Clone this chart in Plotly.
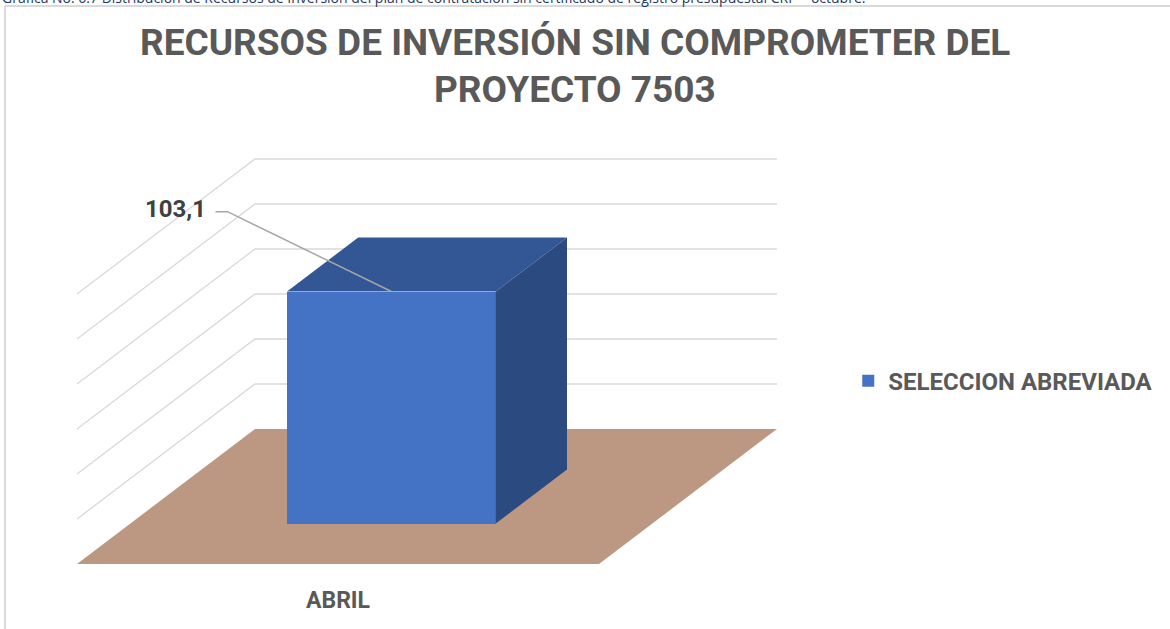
import plotly.graph_objects as go

# data
categories = ["ABRIL"]
series_name = "SELECCION ABREVIADA"
values = [103.1]
value_labels = ["103,1"]
grid_ticks = [20, 40, 60, 80, 100, 120]

title_lines = ["RECURSOS DE INVERSIÓN SIN COMPROMETER DEL", "PROYECTO 7503"]
caption_text = ("Gráfica No. 6.7 Distribución de Recursos de Inversión del plan de contratación "
                "sin certificado de registro presupuestal CRP – octubre.")

# oblique 3d projection (depth z in 0..1 shifts right and up)
DEPTH_DX = 0.341
DEPTH_DY = 60.0
BAR_X0, BAR_X1 = 0.3, 0.7
BAR_Z0, BAR_Z1 = 0.3, 0.7

FRONT = "#4472C4"
TOP = "#335694"
SIDE = "#2A4A80"
FLOOR = "#BC9882"
GRID = "#D9D9D9"
TXT = "#595959"
FONT = "Roboto"

X_RANGE = [-0.1475, 2.0939]
Y_RANGE = [-28.89, 250.67]


def proj(x, v, z):
    return x + DEPTH_DX * z, v + DEPTH_DY * z


def poly(points):
    xs, ys = [], []
    for p in points:
        px, py = proj(*p)
        xs.append(px)
        ys.append(py)
    xs.append(xs[0])
    ys.append(ys[0])
    return xs, ys


fig = go.Figure()

# gridlines: left wall diagonals + back wall horizontals
for t in grid_ticks:
    xs, ys = [], []
    for p in [(0, t, 0), (0, t, 1), (1, t, 1)]:
        px, py = proj(*p)
        xs.append(px)
        ys.append(py)
    fig.add_trace(go.Scatter(x=xs, y=ys, mode="lines", line=dict(color=GRID, width=1.3),
                             hoverinfo="skip", showlegend=False))

# floor
fx, fy = poly([(0, 0, 0), (1, 0, 0), (1, 0, 1), (0, 0, 1)])
fig.add_trace(go.Scatter(x=fx, y=fy, fill="toself", mode="lines", fillcolor=FLOOR,
                         line=dict(width=0), hoverinfo="skip", showlegend=False))

for i, cat in enumerate(categories):
    v = values[i]
    cx = i + 0.5
    x0 = i + BAR_X0
    x1 = i + BAR_X1
    # front face as a real bar (on the overlay axes so it sits above the floor)
    bx, bbase = proj(cx, 0, BAR_Z0)
    fig.add_trace(go.Bar(x=[bx], y=[v], base=[bbase], width=[x1 - x0], name=series_name,
                         marker=dict(color=FRONT, line=dict(width=0)), showlegend=True,
                         xaxis="x2", yaxis="y2"))
    tx, ty = poly([(x0, v, BAR_Z0), (x1, v, BAR_Z0), (x1, v, BAR_Z1), (x0, v, BAR_Z1)])
    fig.add_trace(go.Scatter(x=tx, y=ty, fill="toself", mode="lines", fillcolor=TOP,
                             line=dict(width=0), hoverinfo="skip", showlegend=False,
                             xaxis="x2", yaxis="y2"))
    sx, sy = poly([(x1, v, BAR_Z0), (x1, v, BAR_Z1), (x1, 0, BAR_Z1), (x1, 0, BAR_Z0)])
    fig.add_trace(go.Scatter(x=sx, y=sy, fill="toself", mode="lines", fillcolor=SIDE,
                             line=dict(width=0), hoverinfo="skip", showlegend=False,
                             xaxis="x2", yaxis="y2"))

    # data label with leader line
    ex, ey = proj(cx, v, BAR_Z0)
    lx, ly = ex - 0.337, ey + 35.5
    fig.add_trace(go.Scatter(x=[lx, lx + 0.023, ex], y=[ly, ly, ey], mode="lines",
                             line=dict(color="#A6A6A6", width=1.5), hoverinfo="skip",
                             showlegend=False, xaxis="x2", yaxis="y2"))
    fig.add_annotation(x=lx - 0.014, y=ly + 1, text=value_labels[i], showarrow=False,
                       xanchor="right", yanchor="middle", xref="x2", yref="y2",
                       font=dict(family=FONT, size=24, color="#404040", weight="bold"))

    # category label
    fig.add_annotation(x=cx, y=-16, text=cat, showarrow=False, xanchor="center",
                       yanchor="middle", xref="x2", yref="y2",
                       font=dict(family=FONT, size=23, color=TXT, weight="bold"))

# title lines
for k, line in enumerate(title_lines):
    fig.add_annotation(xref="paper", yref="paper", x=0.4915, y=1 - (42 + 48 * k) / 629,
                       text=line, showarrow=False, xanchor="center", yanchor="middle",
                       font=dict(family=FONT, size=37, color=TXT, weight="bold"))

# frame border and cropped caption line
fig.add_shape(type="line", xref="paper", yref="paper", x0=0.004, x1=1.0,
              y0=1 - 6 / 629, y1=1 - 6 / 629, line=dict(color=GRID, width=2))
fig.add_shape(type="line", xref="paper", yref="paper", x0=0.0043, x1=0.0043,
              y0=0, y1=1 - 6 / 629, line=dict(color=GRID, width=2))
fig.add_annotation(xref="paper", yref="paper", x=0.0, y=1 + 3 / 629, text=caption_text,
                   showarrow=False, xanchor="left", yanchor="middle",
                   font=dict(family="Open Sans", size=14, color="#1F3864"))

fig.update_layout(
    width=1170,
    height=629,
    margin=dict(l=0, r=0, t=0, b=0),
    paper_bgcolor="white",
    plot_bgcolor="white",
    showlegend=True,
    legend=dict(x=0.725, y=0.394, xanchor="left", yanchor="middle",
                font=dict(family=FONT, size=24, color=TXT, weight="bold"),
                bgcolor="rgba(0,0,0,0)"),
    xaxis=dict(range=X_RANGE, visible=False, fixedrange=True),
    yaxis=dict(range=Y_RANGE, visible=False, fixedrange=True),
    xaxis2=dict(range=X_RANGE, visible=False, fixedrange=True, overlaying="x"),
    yaxis2=dict(range=Y_RANGE, visible=False, fixedrange=True, overlaying="y"),
    bargap=0,
)

fig.write_html("out.html", config={"displayModeBar": False},
               post_script="document.body.style.margin='0';")
